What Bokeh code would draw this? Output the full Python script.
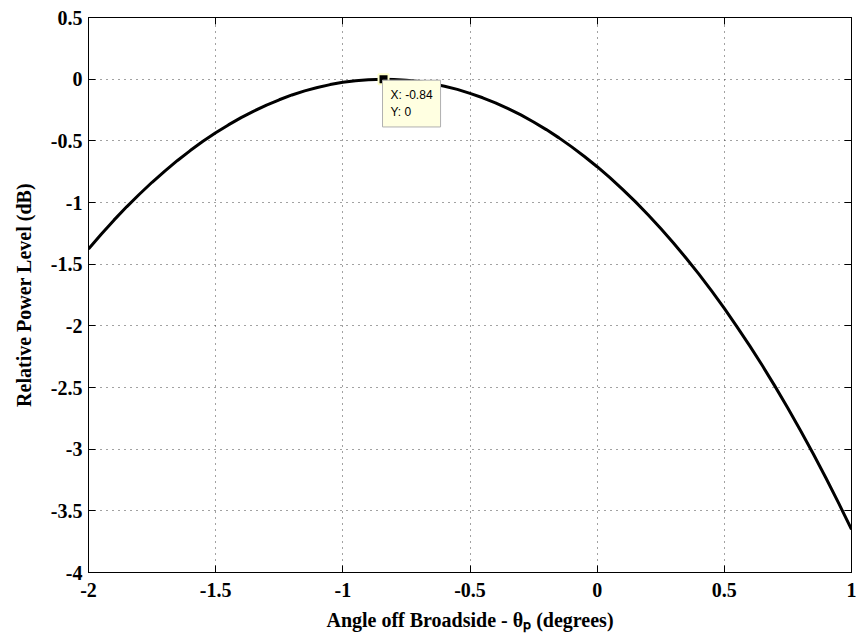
from bokeh.plotting import figure
from bokeh.models import Range1d, LinearAxis, FixedTicker, Label, ColumnDataSource
from bokeh.embed import file_html
from bokeh.resources import INLINE

# ---- data ----
angle_deg = [-2.0, -1.95, -1.9, -1.85, -1.8, -1.75, -1.7, -1.65, -1.6, -1.55, -1.5,
             -1.45, -1.4, -1.35, -1.3, -1.25, -1.2, -1.15, -1.1, -1.05, -1.0,
             -0.95, -0.9, -0.84, -0.8, -0.75, -0.7, -0.65, -0.6, -0.55, -0.5,
             -0.45, -0.4, -0.35, -0.3, -0.25, -0.2, -0.15, -0.1, -0.05, 0.0,
             0.05, 0.1, 0.15, 0.2, 0.25, 0.3, 0.35, 0.4, 0.45, 0.5,
             0.55, 0.6, 0.65, 0.7, 0.75, 0.8, 0.85, 0.9, 0.95, 1.0]
power_db = [-1.377, -1.257, -1.143, -1.035, -0.933, -0.836, -0.745, -0.659, -0.579, -0.504, -0.435,
            -0.371, -0.312, -0.259, -0.210, -0.167, -0.128, -0.095, -0.067, -0.044, -0.025,
            -0.012, -0.004, 0.0, -0.002, -0.008, -0.019, -0.036, -0.057, -0.083, -0.115,
            -0.151, -0.192, -0.239, -0.290, -0.347, -0.409, -0.476, -0.549, -0.627, -0.710,
            -0.799, -0.893, -0.993, -1.099, -1.211, -1.328, -1.452, -1.581, -1.717, -1.859,
            -2.008, -2.163, -2.324, -2.493, -2.668, -2.850, -3.039, -3.236, -3.440, -3.651]

x_ticks = [-2, -1.5, -1, -0.5, 0, 0.5, 1]
x_tick_labels = ["-2", "-1.5", "-1", "-0.5", "0", "0.5", "1"]
y_ticks = [-4, -3.5, -3, -2.5, -2, -1.5, -1, -0.5, 0, 0.5]
y_tick_labels = ["-4", "-3.5", "-3", "-2.5", "-2", "-1.5", "-1", "-0.5", "0", "0.5"]

peak_x = -0.84
peak_y = 0

x_title = "Angle off Broadside - \u03b8\u209a (degrees)"
y_title = "Relative Power Level (dB)"

X_MIN, X_MAX = -2, 1
Y_MIN, Y_MAX = -4, 0.5

FONT = "Liberation Serif"

p = figure(frame_width=763, frame_height=555,
           min_border_left=88, min_border_right=5, min_border_top=17, min_border_bottom=72,
           x_range=Range1d(X_MIN, X_MAX), y_range=Range1d(Y_MIN, Y_MAX),
           output_backend="svg", toolbar_location=None)

p.background_fill_color = "white"
p.border_fill_color = "white"
p.outline_line_color = "black"
p.outline_line_width = 1
p.outline_line_alpha = 1

xa = p.below[0]
ya = p.left[0]
for ax, ticks, labels, title in ((xa, x_ticks, x_tick_labels, x_title),
                                 (ya, y_ticks, y_tick_labels, y_title)):
    ax.ticker = FixedTicker(ticks=ticks)
    ax.major_label_overrides = {t: l for t, l in zip(ticks, labels)}
    ax.major_label_text_font = FONT
    ax.major_label_text_font_style = "bold"
    ax.major_label_text_font_size = "20px"
    ax.major_label_text_color = "black"
    ax.major_tick_in = 7
    ax.major_tick_out = 0
    ax.minor_tick_line_color = None
    ax.axis_line_color = "black"
    ax.major_tick_line_color = "black"
    ax.axis_label = title
    ax.axis_label_text_font = FONT
    ax.axis_label_text_font_style = "bold"
    ax.axis_label_text_font_size = "20px"
    ax.axis_label_text_color = "black"

xa.major_label_standoff = 10
ya.major_label_standoff = 6
xa.axis_label_standoff = 9
ya.axis_label_standoff = 13

# mirrored tick marks on top and right (no labels)
for loc, ticks in (("above", x_ticks), ("right", y_ticks)):
    ax2 = LinearAxis(ticker=FixedTicker(ticks=ticks),
                     major_label_overrides={t: "" for t in ticks},
                     major_label_text_font_size="1px", major_label_text_alpha=0,
                     major_label_standoff=0, major_tick_in=7, major_tick_out=0,
                     minor_tick_line_color=None, axis_line_color="black",
                     major_tick_line_color="black")
    p.add_layout(ax2, loc)

p.xgrid.ticker = FixedTicker(ticks=x_ticks)
p.ygrid.ticker = FixedTicker(ticks=y_ticks)
for g in (p.xgrid, p.ygrid):
    g.grid_line_color = "#444444"
    g.grid_line_dash = "1 5"
    g.grid_line_width = 1

src = ColumnDataSource(dict(x=angle_deg, y=power_db))
p.line("x", "y", source=src, line_width=3, line_color="black", line_join="round")

# data tip
p.scatter([peak_x], [peak_y], marker="square", size=10, fill_color="black",
          line_color="#ffffcc", line_width=2)
tip = Label(x=peak_x, y=peak_y, text=f"X: {peak_x}\nY: {peak_y}",
            text_font="Liberation Sans", text_font_size="12px", text_color="black",
            text_align="left", text_baseline="top", x_offset=-1, y_offset=-1,
            background_fill_color="#ffffe1", border_line_color="#b0b0b0",
            border_line_width=1, padding=8)
p.add_layout(tip)

open("out.html", "w").write(file_html(p, INLINE))
